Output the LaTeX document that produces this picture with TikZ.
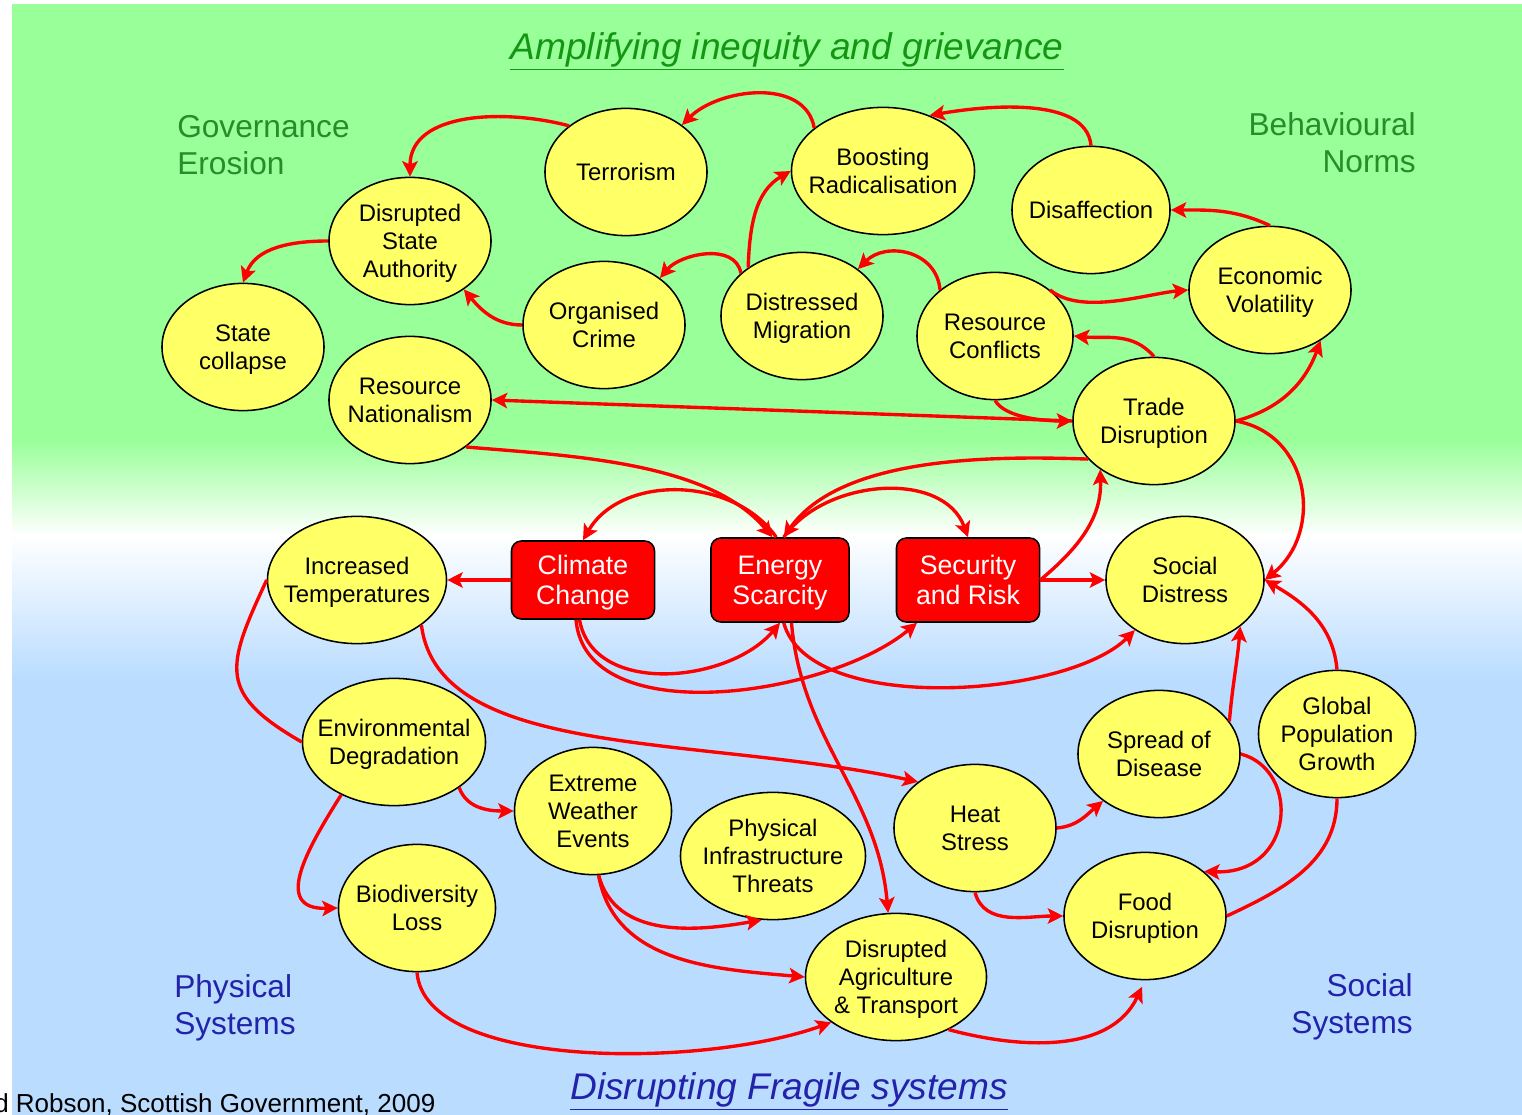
\documentclass[tikz,border=0pt]{standalone}
\usepackage{fontspec}
\setmainfont{Liberation Sans}
\usetikzlibrary{shapes.geometric,arrows.meta}

\definecolor{bggreen}{RGB}{153,255,153}
\definecolor{bgblue}{RGB}{185,220,255}
\definecolor{nodeyellow}{RGB}{255,255,102}
\definecolor{labelgreen}{RGB}{40,140,40}
\definecolor{titlegreen}{RGB}{20,150,20}
\definecolor{labelblue}{RGB}{34,34,170}

\tikzset{
  issue/.style={ellipse, draw, line width=1.1pt, fill=nodeyellow, minimum width=4.05cm, minimum height=3.18cm,
    inner xsep=-1cm, inner ysep=0pt, align=center, font=\fontsize{17}{20}\selectfont, text depth=-4pt},
  driver/.style={draw, line width=1.1pt, rounded corners=7pt, fill=red, text=white, minimum width=3.575cm,
    minimum height=2.05cm, inner sep=0pt, align=center, font=\fontsize{19}{21.5}\selectfont, text depth=-5.5pt},
  link/.style={red, line width=2.4pt, -{Stealth[length=11pt,width=11pt,inset=2.5pt]}},
  regionlabel/.style={inner sep=0pt, font=\fontsize{22.5}{26.5}\selectfont}
}

\begin{document}
\begin{tikzpicture}[x=0.025cm, y=-0.025cm]

\useasboundingbox (0,0) rectangle (1522,1115);
\fill[white] (0,0) rectangle (1522,1115);
\fill[bggreen] (12,4) rectangle (1522,441);
\shade[top color=bggreen, bottom color=white] (12,440) rectangle (1522,536);
\shade[top color=white, bottom color=bgblue] (12,534) rectangle (1522,681);
\fill[bgblue] (12,680) rectangle (1522,1115);

\node[text=titlegreen, font=\fontsize{26.4}{30}\selectfont\itshape] (amplify) at (787,51) {\underline{Amplifying inequity and grievance}};
\node[text=labelblue, font=\fontsize{26.4}{30}\selectfont\itshape] (fragile) at (789,1091) {\underline{Disrupting Fragile systems}};
\node[regionlabel, text=labelgreen, anchor=west, align=left] (govern) at (177,145) {Governance\\Erosion};
\node[regionlabel, text=labelgreen, anchor=east, align=right] (behave) at (1416,143) {Behavioural\\Norms};
\node[regionlabel, text=labelblue, anchor=west, align=left] (physical) at (174,1008) {Physical\\Systems};
\node[regionlabel, text=labelblue, anchor=east, align=right] (social) at (1413,1007) {Social\\Systems};
\node[anchor=base west, inner sep=0pt, font=\fontsize{18.5}{20}\selectfont] (credit) at (-6,1112) {d Robson, Scottish Government, 2009};

\node[issue] (terror) at (626,172) {Terrorism};
\node[issue, minimum width=4.575cm] (radical) at (883,171) {Boosting\\Radicalisation};
\node[issue, minimum width=3.95cm] (disaff) at (1091,210) {Disaffection};
\node[issue] (statauth) at (410,241) {Disrupted\\State\\Authority};
\node[issue] (collapse) at (243,347) {State\\collapse};
\node[issue] (crime) at (604,325) {Organised\\Crime};
\node[issue] (migration) at (802,316) {Distressed\\Migration};
\node[issue, minimum width=3.9cm] (resconf) at (995,336) {Resource\\Conflicts};
\node[issue] (econvol) at (1270,290) {Economic\\Volatility};
\node[issue] (resnat) at (410,400) {Resource\\Nationalism};
\node[issue] (trade) at (1154,421) {Trade\\Disruption};
\node[issue, minimum width=4.475cm] (temps) at (357,580) {Increased\\Temperatures};
\node[issue, minimum width=3.95cm] (socdist) at (1185,580) {Social\\Distress};
\node[issue, minimum width=4.575cm] (envdeg) at (394,742) {Environmental\\Degradation};
\node[issue, minimum width=3.925cm] (weather) at (593,811) {Extreme\\Weather\\Events};
\node[issue, minimum width=4.625cm] (infra) at (773,856) {Physical\\Infrastructure\\Threats};
\node[issue] (heat) at (975,828) {Heat\\Stress};
\node[issue] (disease) at (1159,754) {Spread of\\Disease};
\node[issue, minimum width=3.925cm] (popgrowth) at (1337,734) {Global\\Population\\Growth};
\node[issue, minimum width=3.925cm] (biodiv) at (417,908) {Biodiversity\\Loss};
\node[issue] (food) at (1145,916) {Food\\Disruption};
\node[issue, minimum width=4.525cm] (agri) at (896,977) {Disrupted\\Agriculture\\\& Transport};

\node[driver, minimum height=1.95cm] (climate) at (583,580) {Climate\\Change};
\node[driver, minimum width=3.45cm, minimum height=2.1cm] (energy) at (780,580) {Energy\\Scarcity};
\node[driver, minimum height=2.1cm] (security) at (968,580) {Security\\and Risk};

\draw[link] (terror.141) to[out=165,in=90] (statauth.north);
\draw[link] (radical.148) to[out=100,in=45] (terror.40);
\draw[link] (disaff.north) to[out=95,in=10,looseness=0.8] (radical.50);
\draw[link] (statauth.west) to[out=180,in=70] (collapse.north);
\draw[link] (crime.west) to[out=180,in=-50] (statauth.-42);
\draw[link] (migration.145) to[out=100,in=50] (crime.40);
\draw[link] (migration.138) to[out=88,in=210] (radical.180);
\draw[link] (resconf.140) to[out=95,in=45,looseness=1.2] (migration.40);
\draw[link] (econvol.north) to[out=155,in=0] (disaff.east);
\draw[link] (resconf.40) to[out=-40,in=185,looseness=0.75] (econvol.west);
\draw[link] (trade.north) to[out=130,in=-5] (resconf.east);
\draw[link] (trade.east) to[out=15,in=-110] (econvol.-45);
\draw[link] (trade.west) -- (resnat.east);
\draw[link] (resconf.south) to[out=-60,in=180,looseness=0.7] (trade.west);

\draw[link] (resnat.-40) to[out=-5,in=130,looseness=0.8] (energy.100);
\draw[link] (trade.210) to[out=178,in=55,looseness=0.8] (energy.85);
\draw[link] (energy.95) to[out=125,in=60] (climate.north);
\draw[link] (energy.85) to[out=55,in=110] (security.north);
\draw[link] (climate.west) -- (temps.east);
\draw[link] (security.east) -- (socdist.west);
\draw[link] (security.east) to[out=40,in=-88] (trade.222);
\draw[link] (climate.-95) to[out=-80,in=-130] (energy.-90);
\draw[link] (climate.-100) to[out=-85,in=-140,looseness=0.85] (security.-140);
\draw[link] (energy.-85) to[out=-75,in=-135,looseness=0.7] (socdist.-135);
\draw[link] (energy.-75) to[out=-85,in=95] (agri.97);

\draw[link] (trade.east) to[out=-10,in=39,looseness=1.2] (socdist.east);
\draw[link] (popgrowth.north) to[out=95,in=-30] (socdist.east);
\draw[link] (disease.25) to[out=85,in=-95] (socdist.-40);
\draw[link] (disease.east) .. controls +(60,16) and +(91,3) .. (food.37);
\draw[link, -] (popgrowth.south) to[out=-90,in=25] (food.east);

\draw[link, -] (temps.west) to[out=-115,in=150,looseness=1.5] (envdeg.west);
\draw[link] (temps.-35) .. controls +(17,135) and +(-219,-47) .. (heat.141);
\draw[link] (heat.east) to[out=5,in=-140] (disease.-140);
\draw[link] (heat.south) to[out=-75,in=180] (food.west);
\draw[link] (envdeg.-35) to[out=-70,in=180] (weather.west);
\draw[link] (envdeg.-135) .. controls +(-32,51) and +(-67,2) .. (biodiv.west);
\draw[link] (weather.-85) to[out=-75,in=-170] (infra.-100);
\draw[link] (weather.-85) to[out=-80,in=175] (agri.west);
\draw[link] (biodiv.south) .. controls +(8,98) and +(-128,46) .. (agri.-145);
\draw[link, shorten >=5pt] (agri.-45) to[out=-15,in=-115] (food.south);

\end{tikzpicture}
\end{document}
